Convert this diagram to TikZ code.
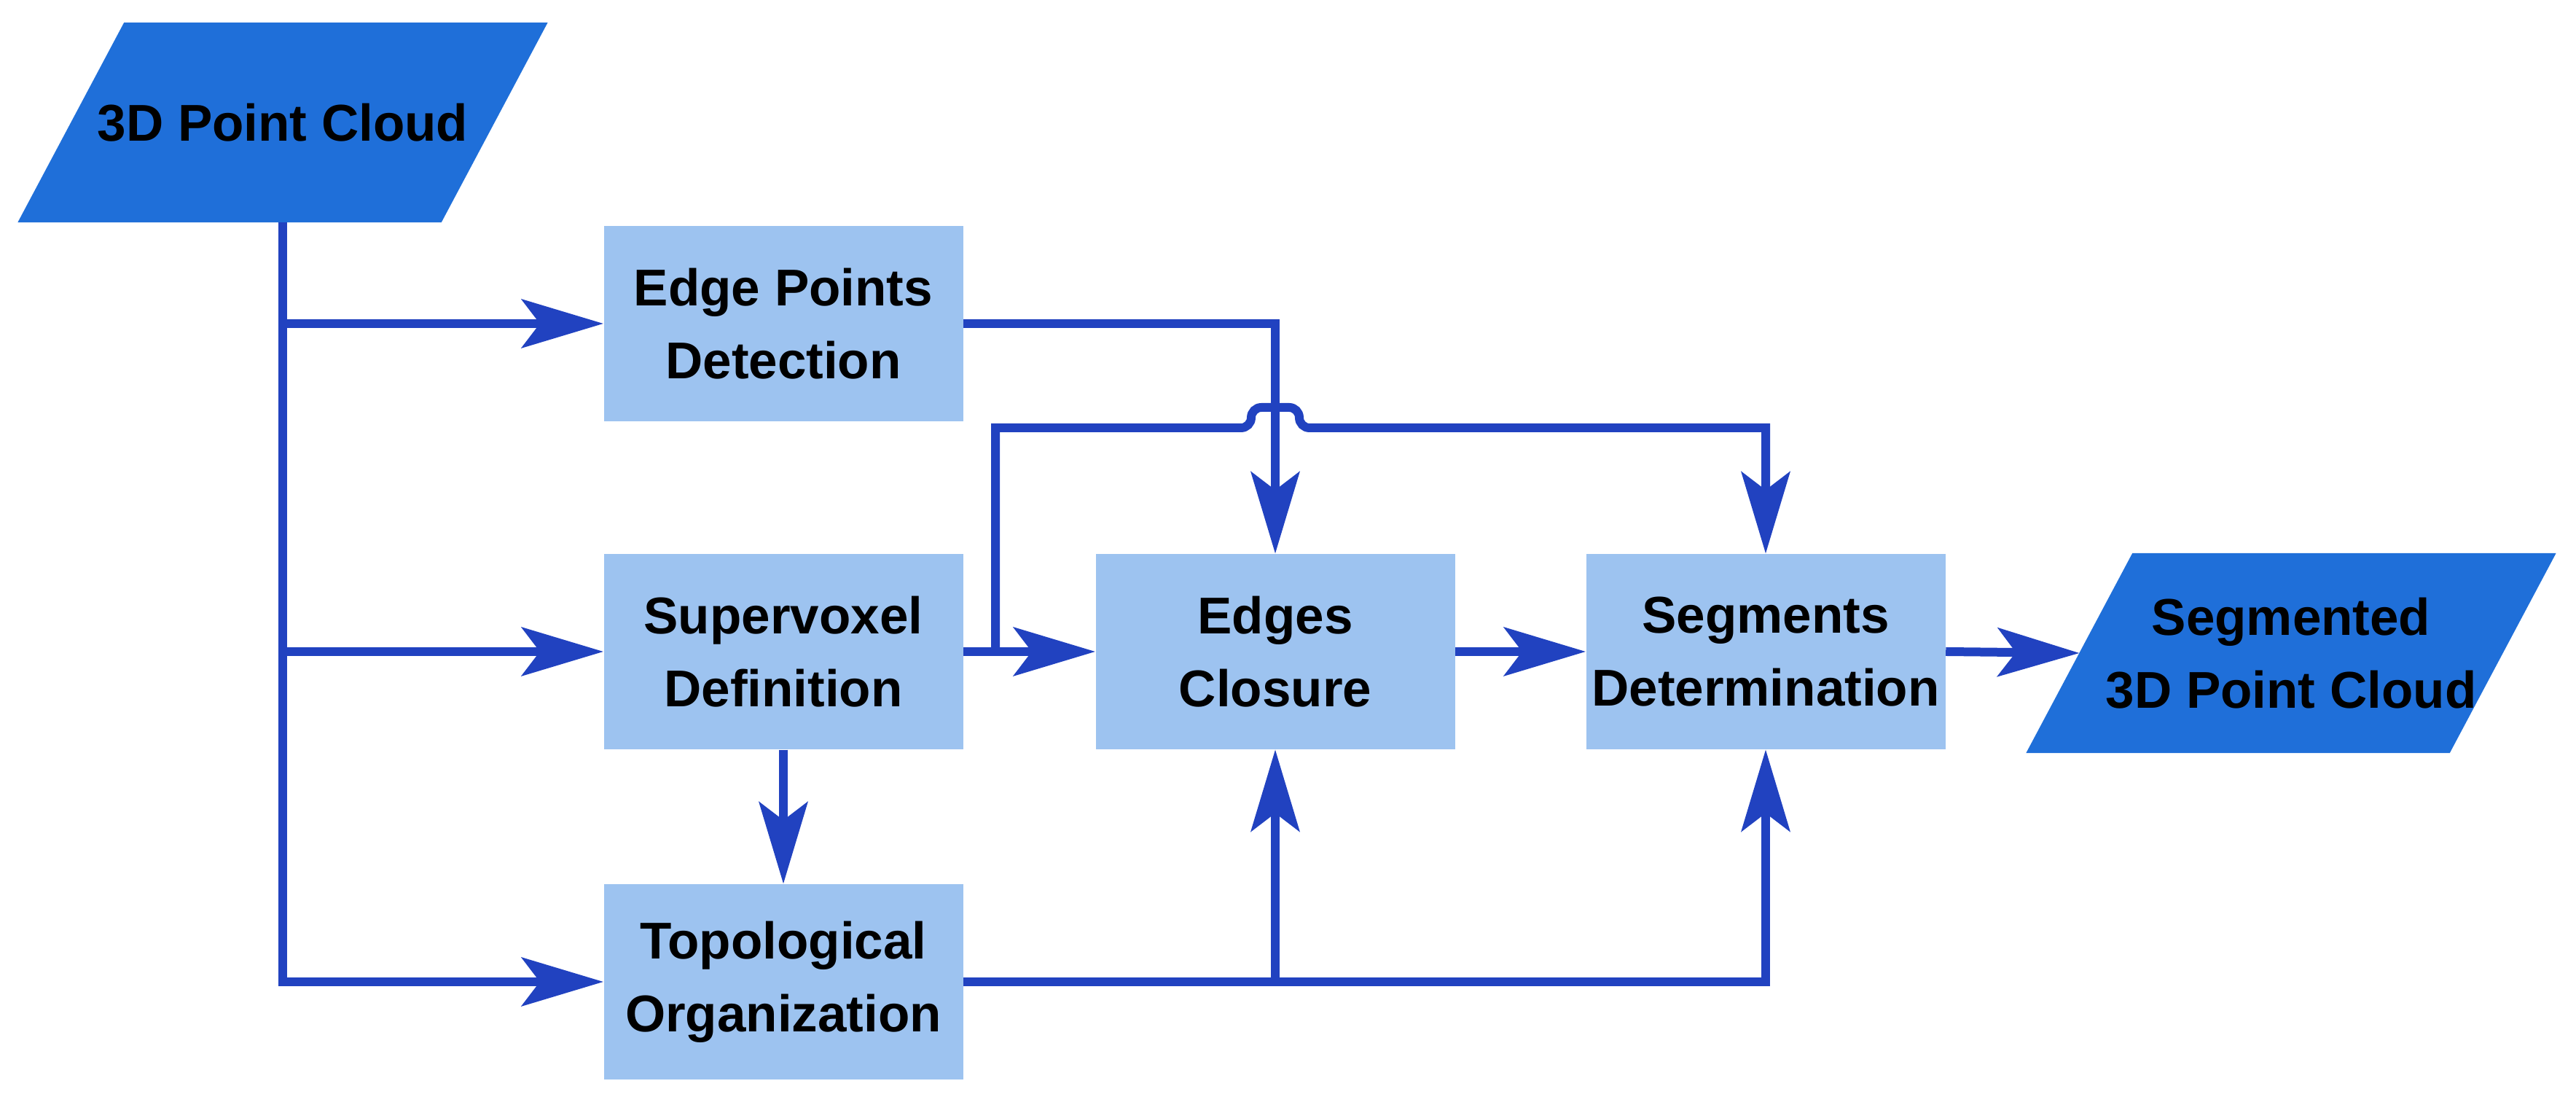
\documentclass[tikz,border=0pt]{standalone}
\usepackage{fontspec}
\setmainfont{Liberation Sans}
\usetikzlibrary{arrows.meta, backgrounds}
\definecolor{cloudblue}{HTML}{1F6FD9}
\definecolor{stepblue}{HTML}{9DC3F0}
\definecolor{flowblue}{HTML}{2142C0}
\tikzset{>={Stealth[length=1.13cm, width=0.68cm, inset=0.26cm, line width=0pt]}}
\tikzset{
    stepbox/.style={fill=stepblue, minimum width=4.93cm, minimum height=2.68cm,
        inner sep=0pt, align=center, font=\fontsize{20.2}{28.5}\selectfont\bfseries},
    databox/.style={minimum width=5.80cm, minimum height=2.73cm,
        inner sep=0pt, align=center, font=\fontsize{20.2}{28.5}\selectfont\bfseries},
    slanted/.style={fill=cloudblue},
    flow/.style={flowblue, line width=0.12cm, ->}
}

\begin{document}
\begin{tikzpicture}
    \useasboundingbox (0,0) rectangle (35.35,15.16);
    \node[databox] (cloud) at (3.88,13.48) {3D Point Cloud};
    \node[stepbox] (edge) at (10.75,10.72) {Edge Points\\Detection};
    \node[stepbox] (voxel) at (10.75,6.22) {Supervoxel\\Definition};
    \node[stepbox] (topo) at (10.75,1.69) {Topological\\Organization};
    \node[stepbox] (closure) at (17.50,6.22) {Edges\\Closure};
    \node[stepbox] (segdet) at (24.23,6.22) {Segments\\Determination};
    \node[databox] (result) at (31.44,6.20) {Segmented\\3D Point Cloud};
    \coordinate (split) at (13.66,6.22);
    \begin{scope}[on background layer]
        \foreach \n in {cloud, result}
            \fill[slanted] ([xshift=0.73cm]\n.north west) -- ([xshift=0.73cm]\n.north east)
                -- ([xshift=-0.73cm]\n.south east) -- ([xshift=-0.73cm]\n.south west) -- cycle;
    \end{scope}
    \draw[flow] (cloud.south) |- (topo.west);
    \draw[flow] (cloud.south |- edge.west) -- (edge.west);
    \draw[flow] (cloud.south |- voxel.west) -- (voxel.west);
    \draw[flow] (edge.east) -| (closure.north);
    \draw[flow] (voxel.east) -- (closure.west);
    \draw[flow] (voxel.south) -- (topo.north);
    \draw[flow] (split) |- (17.03,9.29)
        arc[start angle=-90, end angle=0, radius=0.14]
        arc[start angle=180, end angle=90, radius=0.14] -- ++(0.38,0)
        arc[start angle=90, end angle=0, radius=0.14]
        arc[start angle=180, end angle=270, radius=0.14] -| (segdet.north);
    \draw[flow] (topo.east) -| (segdet.south);
    \draw[flow] (topo.east -| closure.south) -- (closure.south);
    \draw[flow] (closure.east) -- (segdet.west);
    \draw[flow] (segdet.east) -- (result.west);
\end{tikzpicture}
\end{document}
